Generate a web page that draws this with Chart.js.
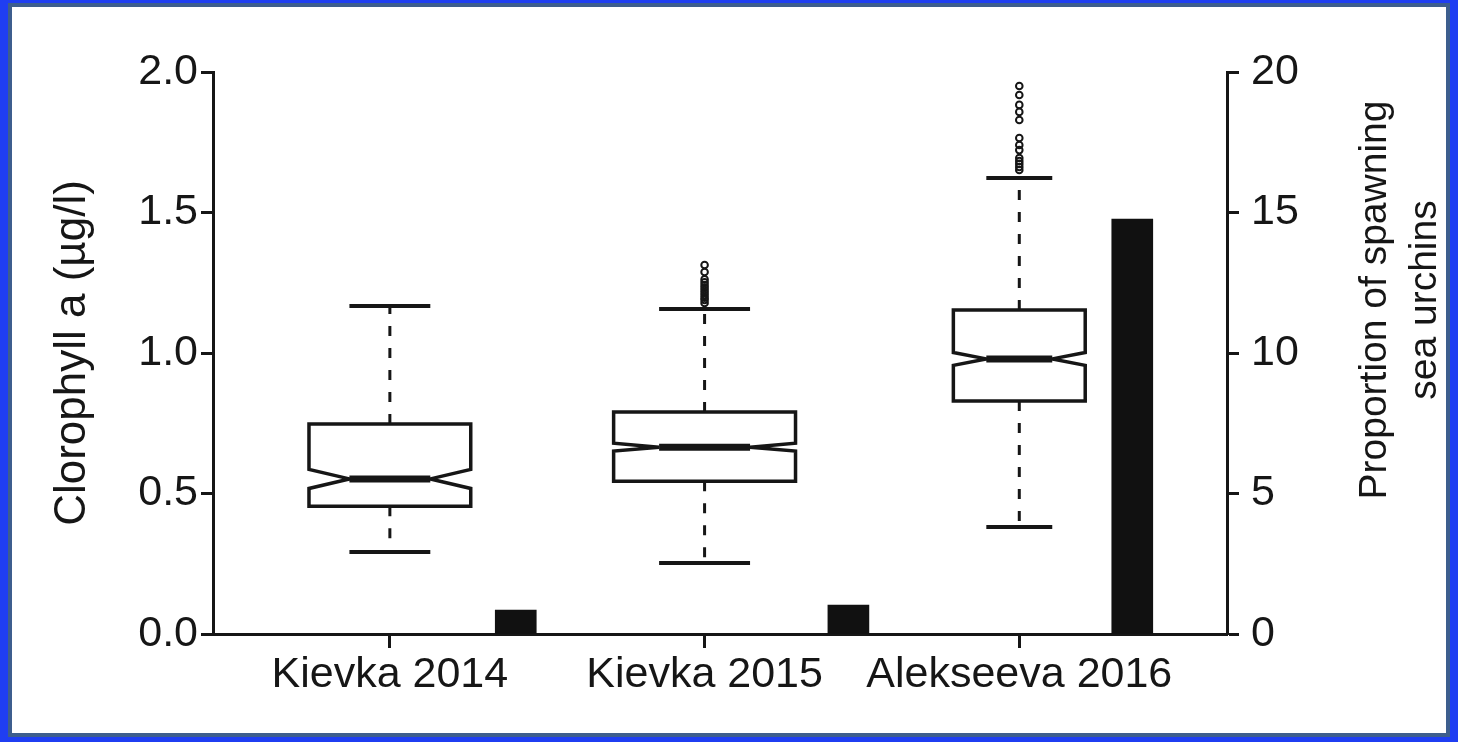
<!DOCTYPE html>
<html>
<head>
<meta charset="utf-8">
<script src="https://cdn.jsdelivr.net/npm/chart.js@4"></script>
<style>
  html, body { margin: 0; padding: 0; }
  body { width: 1458px; height: 742px; background: #1f3ef2; position: relative; overflow: hidden; }
  .frame { position: absolute; left: 8px; top: 3px; width: 1442px; height: 734px; box-sizing: border-box; border: 4px solid #3d5e8e; background: #fff; }
  #chart { position: absolute; left: 0; top: 0; }
</style>
</head>
<body>
<div class="frame"></div>
<canvas id="chart" width="1458" height="742"></canvas>
<script>
// categories and their x positions (boxes centred on the ticks)
const sites = ["Kievka 2014", "Kievka 2015", "Alekseeva 2016"];
const boxX = [1, 2, 3];
const barX = [1.40, 2.457, 3.359];

// clorophyll a boxes (µg/l)
const whiskerLow = [0.292, 0.253, 0.381];
const boxQ1 = [0.455, 0.544, 0.829];
const boxMedian = [0.552, 0.665, 0.979];
const boxQ3 = [0.747, 0.790, 1.153];
const whiskerHigh = [1.167, 1.157, 1.623];
const notchHalf = [0.034, 0.014, 0.023];
const boxWidth = [0.514, 0.578, 0.419];

// outliers
const outliers2015 = [1.313, 1.288, 1.262, 1.252, 1.242, 1.233, 1.224, 1.215, 1.206, 1.197, 1.189, 1.178];
const outliers2016 = [1.950, 1.918, 1.883, 1.858, 1.829, 1.765, 1.740, 1.722, 1.694, 1.683, 1.673, 1.662, 1.651];

// proportion of spawning sea urchins
const spawning = [0.85, 1.03, 14.77];

const ink = "#161616";
const fontFamily = '"Liberation Sans", Arial, sans-serif';
Chart.defaults.font.family = fontFamily;
Chart.defaults.color = ink;

const outlierPoints = [
  ...outliers2015.map((v) => ({ x: boxX[1], y: v })),
  ...outliers2016.map((v) => ({ x: boxX[2], y: v })),
];

// notched boxes drawn through the chart scales
const boxPlugin = {
  id: "boxes",
  beforeDatasetsDraw(chart) {
    const { ctx } = chart;
    const xs = chart.scales.x;
    const ys = chart.scales.y;
    ctx.save();
    ctx.strokeStyle = ink;
    boxX.forEach((c, i) => {
      const cx = xs.getPixelForValue(c);
      const half = (xs.getPixelForValue(c + boxWidth[i] / 2) - xs.getPixelForValue(c - boxWidth[i] / 2)) / 2;
      const L = cx - half, R = cx + half, q = half / 2;
      const yQ1 = ys.getPixelForValue(boxQ1[i]);
      const yQ3 = ys.getPixelForValue(boxQ3[i]);
      const yMed = ys.getPixelForValue(boxMedian[i]);
      const nTop = ys.getPixelForValue(boxMedian[i] + notchHalf[i]);
      const nBot = ys.getPixelForValue(boxMedian[i] - notchHalf[i]);
      const yLo = ys.getPixelForValue(whiskerLow[i]);
      const yHi = ys.getPixelForValue(whiskerHigh[i]);

      // whiskers
      ctx.lineWidth = 3;
      ctx.setLineDash([10, 12]);
      ctx.beginPath();
      ctx.moveTo(cx, yQ3); ctx.lineTo(cx, yHi);
      ctx.moveTo(cx, yQ1); ctx.lineTo(cx, yLo);
      ctx.stroke();
      ctx.setLineDash([]);
      ctx.lineWidth = 4;
      ctx.beginPath();
      ctx.moveTo(cx - q, yHi); ctx.lineTo(cx + q, yHi);
      ctx.moveTo(cx - q, yLo); ctx.lineTo(cx + q, yLo);
      ctx.stroke();

      // box with notch
      ctx.lineWidth = 3.5;
      ctx.lineJoin = "miter";
      ctx.fillStyle = "#fff";
      ctx.beginPath();
      ctx.moveTo(L, yQ3);
      ctx.lineTo(R, yQ3);
      ctx.lineTo(R, nTop);
      ctx.lineTo(R - q, yMed);
      ctx.lineTo(R, nBot);
      ctx.lineTo(R, yQ1);
      ctx.lineTo(L, yQ1);
      ctx.lineTo(L, nBot);
      ctx.lineTo(L + q, yMed);
      ctx.lineTo(L, nTop);
      ctx.closePath();
      ctx.fill();
      ctx.stroke();

      // median
      ctx.lineWidth = 7;
      ctx.beginPath();
      ctx.moveTo(L + q, yMed); ctx.lineTo(R - q, yMed);
      ctx.stroke();
    });
    ctx.restore();
  },
};

// right title reads bottom to top
const rightTitle = {
  id: "rightTitle",
  afterDraw(chart) {
    const { ctx, chartArea } = chart;
    ctx.save();
    ctx.translate(chartArea.right + 173, (chartArea.top + chartArea.bottom) / 2 - 53);
    ctx.rotate(-Math.PI / 2);
    ctx.font = "39px " + fontFamily;
    ctx.fillStyle = ink;
    ctx.textAlign = "center";
    ctx.textBaseline = "middle";
    ctx.fillText("Proportion of spawning", 0, -25);
    ctx.fillText("sea urchins", 0, 25);
    ctx.restore();
  },
};

new Chart(document.getElementById("chart"), {
  type: "bar",
  data: {
    datasets: [
      {
        type: "bar",
        label: "Spawning",
        data: barX.map((x, i) => ({ x: x, y: spawning[i] })),
        xAxisID: "x",
        yAxisID: "y2",
        backgroundColor: "#111",
        borderWidth: 0,
        barThickness: 41,
      },
      {
        type: "scatter",
        label: "Outliers",
        data: outlierPoints,
        xAxisID: "x",
        yAxisID: "y",
        pointStyle: "circle",
        pointRadius: 3.3,
        borderWidth: 2,
        borderColor: ink,
        backgroundColor: "rgba(255,255,255,0)",
      },
    ],
  },
  plugins: [boxPlugin, rightTitle],
  options: {
    responsive: false,
    animation: false,
    devicePixelRatio: 1,
    layout: { padding: { left: 0, top: 72, right: 0, bottom: 0 } },
    scales: {
      x: {
        type: "linear",
        min: 0.438,
        max: 3.66,
        offset: false,
        afterBuildTicks: (s) => { s.ticks = boxX.map((v) => ({ value: v })); },
        afterFit: (s) => { s.height = 108; },
        ticks: {
          callback: (v, i) => sites[i],
          font: { size: 43 },
          padding: 1,
          maxRotation: 0,
          autoSkip: false,
        },
        grid: { drawOnChartArea: false, offset: false, tickLength: 14, tickWidth: 3, tickColor: ink },
        border: { display: true, width: 3, color: ink },
      },
      y: {
        position: "left",
        min: 0,
        max: 2,
        afterFit: (s) => { s.width = 213; },
        ticks: { stepSize: 0.5, callback: (v) => v.toFixed(1), font: { size: 43 }, padding: 3 },
        grid: { drawOnChartArea: false, tickLength: 12, tickWidth: 3, tickColor: ink },
        border: { display: true, width: 3, color: ink },
        title: { display: true, text: "Clorophyll a (µg/l)", font: { size: 44 }, padding: { top: 46, bottom: 0 } },
      },
      y2: {
        position: "right",
        min: 0,
        max: 20,
        afterFit: (s) => { s.width = 231; },
        ticks: { stepSize: 5, font: { size: 43 }, padding: 12 },
        grid: { drawOnChartArea: false, tickLength: 12, tickWidth: 3, tickColor: ink },
        border: { display: true, width: 3, color: ink },
      },
    },
    plugins: {
      legend: { display: false },
      tooltip: { enabled: false },
    },
  },
});
</script>
</body>
</html>
